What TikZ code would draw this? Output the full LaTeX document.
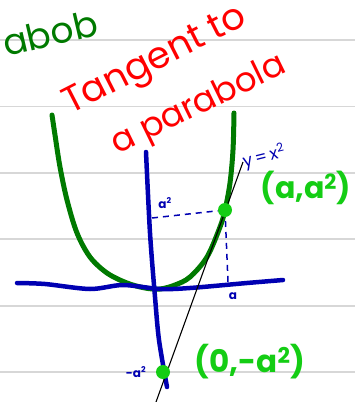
\documentclass[tikz,border=0pt]{standalone}
\usepackage{fontspec}
\setmainfont{Poppins}
\definecolor{rulegray}{RGB}{215,215,215}
\definecolor{dgreen}{RGB}{0,122,0}
\definecolor{lgreen}{RGB}{20,205,20}
\definecolor{ink}{RGB}{0,0,178}
\definecolor{hred}{RGB}{255,0,0}
\begin{document}
\begin{tikzpicture}[x=1pt,y=-1pt,
  ruleline/.style={rulegray,line width=1.5pt},
  axisline/.style={ink,line width=4.5pt,line cap=round,line join=round},
  guide/.style={ink,line width=1.5pt,dash pattern=on 6pt off 5pt},
  redtext/.style={text=hred,font=\fontsize{37}{37}\selectfont,inner sep=0pt},
  greenlab/.style={text=lgreen,font=\fontsize{31}{31}\selectfont\bfseries,inner sep=0pt},
  bluelab/.style={text=ink,inner sep=0pt},
  dot/.style={circle,fill=lgreen,minimum size=14pt,inner sep=0pt}]
\useasboundingbox (0,0) rectangle (355,402);
\clip (0,0) rectangle (355,402);
\fill[white] (0,0) rectangle (355,402);
% ruled lines
\foreach \yy in {40,106.5,173,239,306,372} \draw[ruleline] (0,\yy) -- (355,\yy);
% fragment of heading
\node[text=dgreen,font=\fontsize{36}{36}\selectfont,inner sep=0pt,rotate=13,anchor=west] (frag) at (3,44) {abob};
% title
\node[redtext,rotate=27] (title1) at (156,62) {Tangent to};
\node[redtext,rotate=26,font=\fontsize{34}{34}\selectfont] (title2) at (199,106) {a parabola};
% parabola
\draw[dgreen,line width=5pt,line cap=round] plot[smooth,tension=0.55] coordinates {
 (52,115) (55,135) (60,167) (67,200) (77,233) (90,257) (107,273) (127,283) (145,288) (160,289)
 (175,285) (190,277) (207,257) (220,227) (225,210) (230,183) (233,150) (234,113)};
% axes
\draw[axisline] plot[smooth,tension=0.5] coordinates {(146,152) (150,233) (155,297) (159,340) (167,387)};
\draw[axisline] plot[smooth,tension=0.5] coordinates {(17,283) (45,284) (90,289) (123,285) (160,289) (190,288) (247,283) (283,280)};
% points
\coordinate (P) at (225,210);
\coordinate (Q) at (163,372);
\coordinate (Px) at (228,282);
\coordinate (Py) at (152,218);
\coordinate (Tb) at (156,402);
\coordinate (Tt) at (243,162);
% guides
\draw[guide] (Py) -- (P);
\draw[guide] (P) -- (Px);
% tangent line
\draw[black,line width=1.1pt] (Tb) -- (Tt);
% dots
\node[dot] (dotP) at (P) {};
\node[dot] (dotQ) at (Q) {};
% labels
\node[bluelab,font=\fontsize{12}{12}\selectfont\bfseries] (la2) at (165,203) {a\textsuperscript{2}};
\node[bluelab,font=\fontsize{12}{12}\selectfont\bfseries] (la) at (233,296) {a};
\node[bluelab,font=\fontsize{17}{17}\selectfont,rotate=14] (lcurve) at (264,157) {y\,=\,x\textsuperscript{2}};
\node[bluelab,font=\fontsize{12}{12}\selectfont\bfseries] (lma2) at (136,372) {-a\textsuperscript{2}};
\node[greenlab,font=\fontsize{30}{30}\selectfont\bfseries] (lP) at (306,188) {(a,a\textsuperscript{2})};
\node[greenlab] (lQ) at (250,362) {(0,-a\textsuperscript{2})};
\end{tikzpicture}
\end{document}
